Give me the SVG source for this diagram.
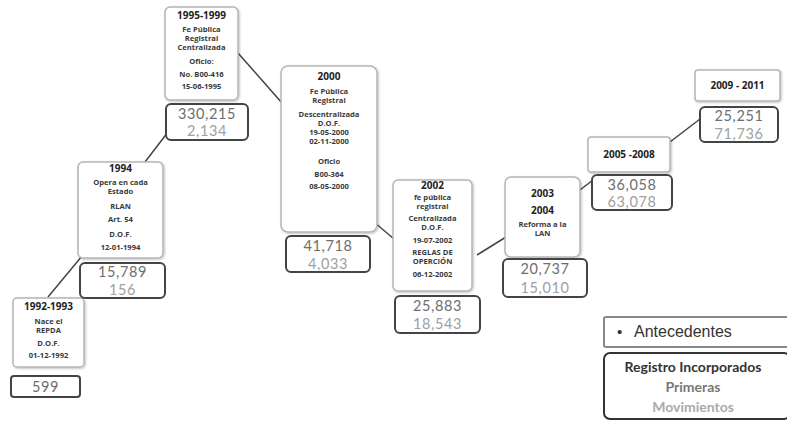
<svg xmlns="http://www.w3.org/2000/svg" width="787" height="422" viewBox="0 0 787 422">
<defs>
<filter id="sh" x="-10%" y="-10%" width="130%" height="130%">
<feDropShadow dx="1" dy="1" stdDeviation="1" flood-color="#000" flood-opacity="0.25"/>
</filter>
<style>
.nb{fill:#fff;stroke:#b5b5b5;stroke-width:1.5;filter:url(#sh)}
.vb{fill:#fff;stroke:#444;stroke-width:2}
.t{font-family:"Open Sans","DejaVu Sans",sans-serif;font-weight:bold;font-size:7.6px;fill:#3a3a3a;text-anchor:middle}
.ty{font-family:"Open Sans","DejaVu Sans",sans-serif;font-weight:bold;font-size:10px;fill:#222;text-anchor:middle}
.v1{font-family:Lato,"Open Sans",sans-serif;font-size:14.5px;letter-spacing:0.6px;fill:#6e6e6e;text-anchor:middle}
.v2{font-family:Lato,"Open Sans",sans-serif;font-size:14.5px;letter-spacing:0.6px;fill:#a0a0a0;text-anchor:middle}
.c{stroke:#444;stroke-width:1.5;fill:none}
</style>
</defs>
<rect width="787" height="422" fill="#fff"/>
<g id="connectors">
<line class="c" x1="48" y1="297" x2="82" y2="256"/>
<line class="c" x1="145" y1="162" x2="168" y2="132"/>
<line class="c" x1="238" y1="53" x2="282" y2="103"/>
<line class="c" x1="374" y1="222" x2="394" y2="239"/>
<line class="c" x1="477" y1="255" x2="506" y2="237"/>
<line class="c" x1="580" y1="190" x2="593" y2="180"/>
<line class="c" x1="670" y1="142" x2="700" y2="119"/>
</g>
<g id="n1992">
<rect class="nb" x="13" y="298" width="71" height="69" rx="4"/>
<text class="ty" x="48.5" y="310">1992-1993</text>
<text class="t" x="48.5" y="324">Nace el</text>
<text class="t" x="48.5" y="333">REPDA</text>
<text class="t" x="48.5" y="346">D.O.F.</text>
<text class="t" x="48.5" y="358">01-12-1992</text>
<rect class="vb" x="11" y="376" width="69" height="21" rx="3"/>
<text class="v1" x="45.5" y="392">599</text>
</g>
<g id="n1994">
<rect class="nb" x="78" y="162" width="85" height="96" rx="5"/>
<text class="ty" x="120.5" y="172">1994</text>
<text class="t" x="120.5" y="185">Opera  en cada</text>
<text class="t" x="120.5" y="194">Estado</text>
<text class="t" x="120.5" y="209">RLAN</text>
<text class="t" x="120.5" y="222">Art. 54</text>
<text class="t" x="120.5" y="237">D.O.F.</text>
<text class="t" x="120.5" y="250">12-01-1994</text>
<rect class="vb" x="80" y="263" width="85" height="35" rx="5"/>
<text class="v1" x="122.5" y="277">15,789</text>
<text class="v2" x="122.5" y="294.5">156</text>
</g>
<g id="n1995">
<rect class="nb" x="165" y="7" width="73" height="93" rx="5"/>
<text class="ty" x="201.5" y="19">1995-1999</text>
<text class="t" x="201.5" y="32">Fe Pública</text>
<text class="t" x="201.5" y="41">Registral</text>
<text class="t" x="201.5" y="50">Centralizada</text>
<text class="t" x="201.5" y="64">Oficio:</text>
<text class="t" x="201.5" y="77">No. B00-416</text>
<text class="t" x="201.5" y="89">15-06-1995</text>
<rect class="vb" x="166" y="104" width="82" height="36" rx="5"/>
<text class="v1" x="207" y="118.5">330,215</text>
<text class="v2" x="207" y="136">2,134</text>
</g>
<g id="n2000">
<rect class="nb" x="281" y="66" width="96" height="166" rx="7"/>
<text class="ty" x="329" y="80">2000</text>
<text class="t" x="329" y="94">Fe Pública</text>
<text class="t" x="329" y="103">Registral</text>
<text class="t" x="329" y="117">Descentralizada</text>
<text class="t" x="329" y="126">D.O.F.</text>
<text class="t" x="329" y="135">19-05-2000</text>
<text class="t" x="329" y="144">02-11-2000</text>
<text class="t" x="329" y="164">Oficio</text>
<text class="t" x="329" y="177">B00-364</text>
<text class="t" x="329" y="189">08-05-2000</text>
<rect class="vb" x="286" y="236" width="84" height="36" rx="5"/>
<text class="v1" x="328" y="251">41,718</text>
<text class="v2" x="328" y="268.5">4,033</text>
</g>
<g id="n2002">
<rect class="nb" x="393" y="180" width="79" height="111" rx="5"/>
<text class="ty" x="432.5" y="189">2002</text>
<text class="t" x="432.5" y="200">fe pública</text>
<text class="t" x="432.5" y="209">registral</text>
<text class="t" x="432.5" y="221">Centralizada</text>
<text class="t" x="432.5" y="230">D.O.F.</text>
<text class="t" x="432.5" y="243">19-07-2002</text>
<text class="t" x="432.5" y="255">REGLAS  DE</text>
<text class="t" x="432.5" y="264">OPERCIÓN</text>
<text class="t" x="432.5" y="277">06-12-2002</text>
<rect class="vb" x="395" y="296" width="85" height="37" rx="5"/>
<text class="v1" x="437.5" y="311">25,883</text>
<text class="v2" x="437.5" y="328.5">18,543</text>
</g>
<g id="n2003">
<rect class="nb" x="505" y="177" width="75" height="80" rx="6"/>
<text class="ty" x="542.5" y="197">2003</text>
<text class="ty" x="542.5" y="214">2004</text>
<text class="t" x="542.5" y="227">Reforma a la</text>
<text class="t" x="542.5" y="236">LAN</text>
<rect class="vb" x="503" y="259" width="84" height="38" rx="5"/>
<text class="v1" x="545" y="274">20,737</text>
<text class="v2" x="545" y="292.5">15,010</text>
</g>
<g id="n2005">
<rect class="nb" x="588" y="137" width="82" height="35" rx="3"/>
<text class="ty" x="629" y="158">2005  -2008</text>
<rect class="vb" x="592" y="175" width="80" height="35" rx="5"/>
<text class="v1" x="632" y="189.5">36,058</text>
<text class="v2" x="632" y="207">63,078</text>
</g>
<g id="n2009">
<rect class="nb" x="695" y="70" width="85" height="31" rx="3"/>
<text class="ty" x="737.5" y="89">2009 - 2011</text>
<rect class="vb" x="700" y="107" width="78" height="35" rx="5"/>
<text class="v1" x="739" y="121">25,251</text>
<text class="v2" x="739" y="138.5">71,736</text>
</g>
<g id="legend">
<rect x="604" y="317" width="186" height="30" fill="#fff" stroke="#888" stroke-width="2" rx="2"/>
<text x="617" y="337" font-family="'Liberation Sans',Arial,sans-serif" font-size="15" fill="#333">•</text>
<text x="634" y="337" font-family="'Liberation Sans',Arial,sans-serif" font-size="16" fill="#333">Antecedentes</text>
<rect x="604" y="353" width="186" height="66" fill="#fff" stroke="#333" stroke-width="2" rx="6"/>
<text x="693" y="372" font-family="Lato,'Open Sans',sans-serif" font-weight="bold" font-size="14" fill="#333" text-anchor="middle">Registro Incorporados</text>
<text x="693" y="392" font-family="Lato,'Open Sans',sans-serif" font-weight="bold" font-size="14" fill="#777" text-anchor="middle">Primeras</text>
<text x="693" y="412" font-family="Lato,'Open Sans',sans-serif" font-weight="bold" font-size="14" fill="#aaa" text-anchor="middle">Movimientos</text>
</g>
</svg>
